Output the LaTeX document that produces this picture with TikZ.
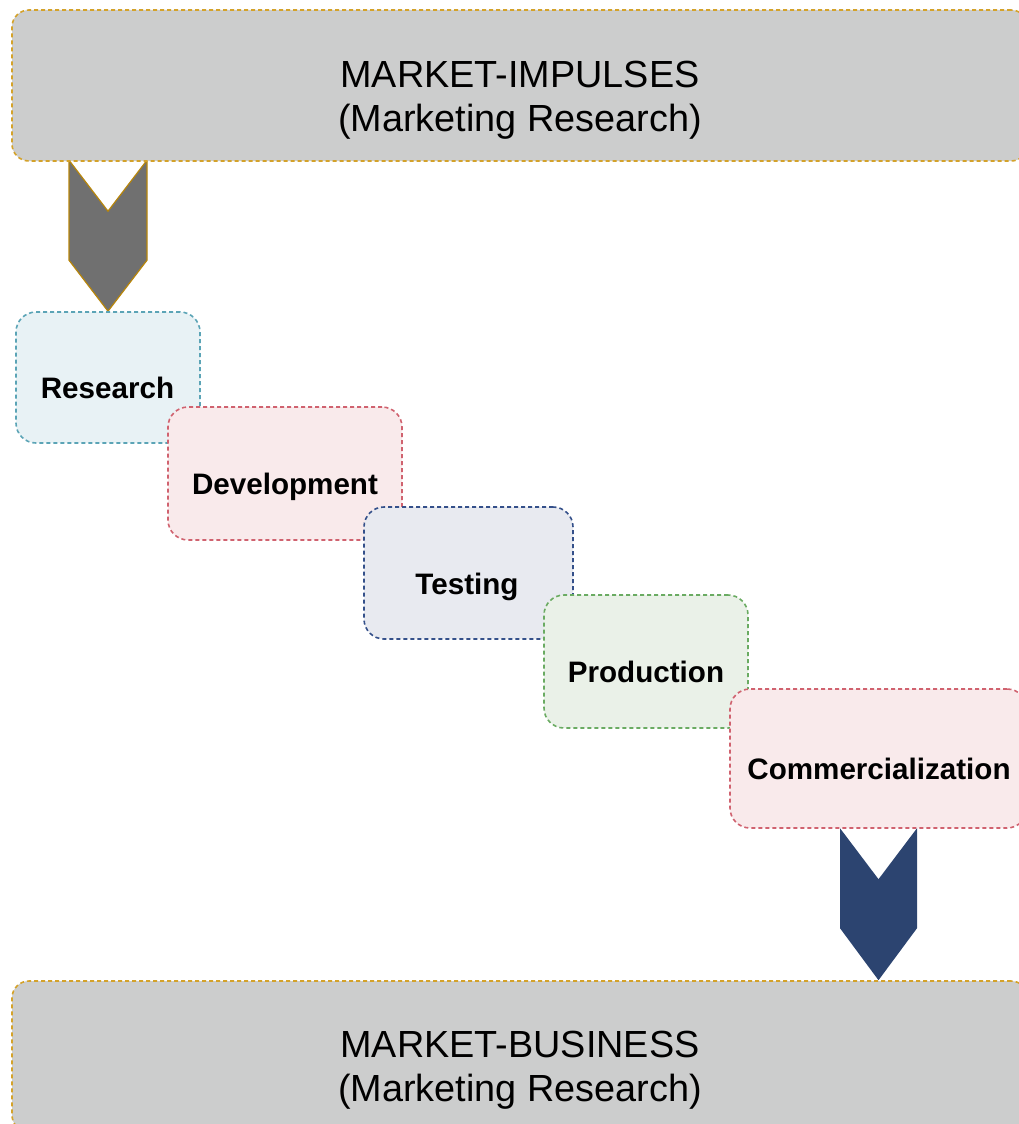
\documentclass[tikz,border=0pt]{standalone}
\usepackage{fontspec}
\setmainfont{Liberation Sans}
\usetikzlibrary{backgrounds}

\definecolor{panelgray}{HTML}{CCCDCD}
\definecolor{panelline}{HTML}{D4A22A}
\definecolor{chevgray}{HTML}{707070}
\definecolor{chevline}{HTML}{B8860B}
\definecolor{chevblue}{HTML}{2C4470}
\definecolor{resfill}{HTML}{E8F2F5}
\definecolor{resline}{HTML}{5BA4B6}
\definecolor{rosefill}{HTML}{F9EAEB}
\definecolor{roseline}{HTML}{D0626F}
\definecolor{testfill}{HTML}{E8EAF0}
\definecolor{testline}{HTML}{34508A}
\definecolor{prodfill}{HTML}{EAF1E8}
\definecolor{prodline}{HTML}{6AAB62}

\begin{document}
\begin{tikzpicture}[x=1pt,y=-1pt,
  panel/.style={draw=panelline, fill=panelgray, line width=1.6pt,
    dash pattern=on 4pt off 3pt, rounded corners=17pt, inner sep=0pt,
    minimum width=1016pt, minimum height=151pt},
  stagebox/.style={line width=1.6pt, dash pattern=on 4pt off 3pt,
    rounded corners=20pt, inner sep=0pt},
  headline/.style={anchor=base, inner sep=0pt,
    font=\fontsize{37.8}{44}\selectfont},
  stagetext/.style={anchor=base, inner sep=0pt,
    font=\fontsize{29.6}{34}\selectfont\bfseries},
  chevron/.style={line width=1.2pt, line join=miter}
]
\useasboundingbox (0,0) rectangle (1019,1124);
\clip (0,0) rectangle (1019,1124);

% outer market panels
\node[panel] (impulses) at (520,85.5) {};
\node[headline] (impulses-a) at (520,87) {MARKET-IMPULSES};
\node[headline] (impulses-b) at (520,131) {(Marketing Research)};

\node[panel] (business) at (520,1056.5) {};
\node[headline] (business-a) at (520,1057) {MARKET-BUSINESS};
\node[headline] (business-b) at (520,1101) {(Marketing Research)};

% staircase of stages, each one laid over the previous
\node[stagebox, draw=resline, fill=resfill,
  minimum width=184pt, minimum height=131pt] (research) at (108,377.5) {};
\node[stagetext] (research-t) at (107.5,398) {Research};

\node[stagebox, draw=roseline, fill=rosefill,
  minimum width=234pt, minimum height=133pt] (development) at (285,473.5) {};
\node[stagetext] (development-t) at (285,494) {Development};

\node[stagebox, draw=testline, fill=testfill,
  minimum width=209pt, minimum height=132pt] (testing) at (468.5,573) {};
\node[stagetext] (testing-t) at (467,594) {Testing};

\node[stagebox, draw=prodline, fill=prodfill,
  minimum width=204pt, minimum height=133pt] (production) at (646,661.5) {};
\node[stagetext] (production-t) at (646,682) {Production};

\node[stagebox, draw=roseline, fill=rosefill,
  minimum width=297pt, minimum height=139pt] (commercial) at (878.5,758.5) {};
\node[stagetext] (commercial-t) at (879,779) {Commercialization};

% chevron arrows behind the boxes
\begin{pgfonlayer}{background}
  \draw[chevron, draw=chevline, fill=chevgray]
    (research.north) -- ++(39,-51) -- ++(0,-100) -- ++(-39,51)
    -- ++(-39,-51) -- ++(0,100) -- cycle;
  \coordinate (landing) at (commercial.south |- business.north);
  \fill[chevblue]
    (landing) -- ++(38.5,-52) -- ++(0,-100) -- ++(-38.5,51)
    -- ++(-38.5,-51) -- ++(0,100) -- cycle;
\end{pgfonlayer}
\end{tikzpicture}
\end{document}
